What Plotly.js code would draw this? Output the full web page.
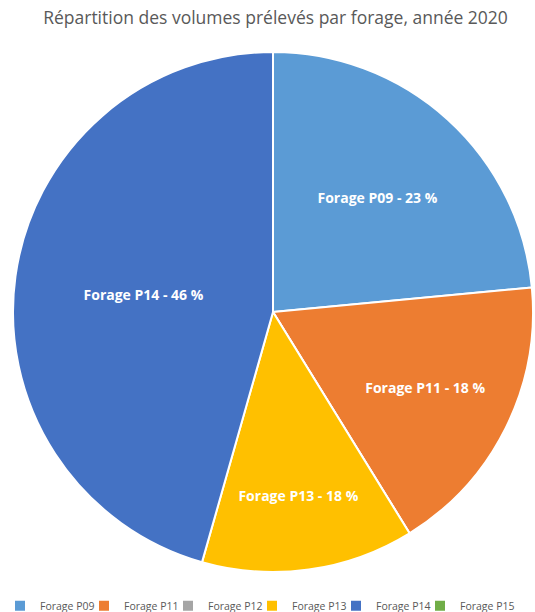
<!DOCTYPE html>
<html>
<head>
<meta charset="utf-8">
<script src="https://cdn.plot.ly/plotly-3.0.1.min.js"></script>
<style>html,body{margin:0;padding:0;background:#fff;}#chart{width:535px;height:612px;}</style>
</head>
<body>
<div id="chart"></div>
<script>
var categories = ["Forage P09", "Forage P11", "Forage P12", "Forage P13", "Forage P14", "Forage P15"];
var shares = [23.5, 17.7, 0, 13.2, 45.6, 0];
var pctText = ["23 %", "18 %", "", "18 %", "46 %", ""];
var colors = ["#5B9BD5", "#ED7D31", "#A5A5A5", "#FFC000", "#4472C4", "#70AD47"];

var labelsText = categories.map(function (c, i) { return pctText[i] ? c + " - " + pctText[i] : ""; });

var trace = {
  type: "pie",
  labels: categories,
  values: shares,
  text: labelsText,
  textinfo: "text",
  textposition: "inside",
  insidetextorientation: "horizontal",
  insidetextfont: {family: "Open Sans, Arial, sans-serif", size: 14, color: "#ffffff", weight: "bold"},
  sort: false,
  direction: "clockwise",
  rotation: 0,
  marker: {colors: colors, line: {color: "#ffffff", width: 2}},
  hoverinfo: "label+percent"
};

var layout = {
  width: 535,
  height: 612,
  margin: {l: 13, r: 2, t: 52, b: 40, autoexpand: false},
  paper_bgcolor: "#ffffff",
  title: {
    text: "Répartition des volumes prélevés par forage, année 2020",
    font: {family: "Open Sans, Arial, sans-serif", size: 17.5, color: "#595959"},
    x: 0.515, xanchor: "center", y: 0.97, yanchor: "middle"
  },
  showlegend: true,
  legend: {
    orientation: "h",
    x: -0.025, xanchor: "left",
    y: -0.063, yanchor: "middle",
    font: {family: "Open Sans, Arial, sans-serif", size: 10.5, color: "#595959"},
    title: {text: "\u00a0".repeat(1200), side: "top", font: {size: 2, color: "#ffffff"}},
    itemwidth: 30,
    entrywidth: 39,
    entrywidthmode: "pixels",
    bgcolor: "rgba(0,0,0,0)",
    traceorder: "normal"
  }
};

Plotly.newPlot("chart", [trace], layout, {displayModeBar: false, staticPlot: true});
</script>
</body>
</html>
